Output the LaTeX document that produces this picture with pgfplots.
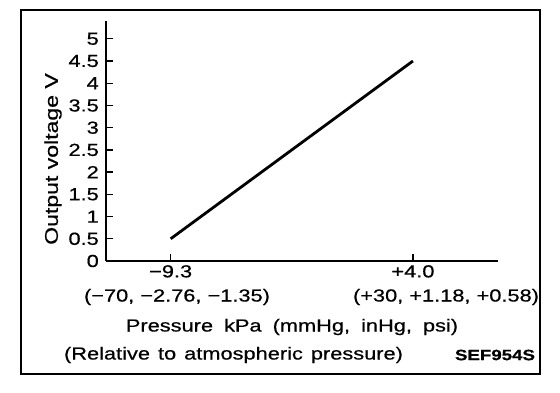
\documentclass[border=0pt]{standalone}
\usepackage{fontspec}
\setmainfont{Liberation Sans}[FakeStretch=1.25, FakeBold=0.6]
\usepackage{pgfplots}
\pgfplotsset{compat=1.18}
\begin{document}
\begin{tikzpicture}[x=1bp,y=1bp]
\fontsize{17.5}{21}\selectfont
\useasboundingbox (0,0) rectangle (560,392);
\draw[line width=2.5bp] (21,18) rectangle (540,382);
\begin{axis}[
  at={(106bp,131bp)}, anchor=south west,
  scale only axis, width=392bp, height=240bp,
  xmin=-12.85, xmax=8.67, ymin=0, ymax=5.4,
  axis lines=left,
  axis line style={-, line width=1.3bp},
  tick align=inside,
  major tick length=7bp,
  tick style={line width=1.3bp, black},
  /pgf/number format/assume math mode=true,
  xtick={-9.3,4.0},
  xticklabels={−9.3,+4.0},
  ytick={0,0.5,1,1.5,2,2.5,3,3.5,4,4.5,5},
  yticklabels={0,0.5,1,1.5,2,2.5,3,3.5,4,4.5,5},
  ticklabel style={font=\fontsize{17.5}{21}\selectfont},
  yticklabel style={inner sep=0pt, xshift=-7bp},
  xticklabel style={inner sep=0pt, yshift=-4bp},
  ylabel={Output voltage V},
  ylabel style={at={(axis description cs:-0.135,0.425)}, anchor=center, rotate=0, inner sep=0pt, font=\fontsize{18.5}{22}\selectfont},
  clip=false,
]
\addplot[black, line width=2.8bp] coordinates {(-9.3,0.5) (4.0,4.5)};
\end{axis}
\node at (177,95) {(−70, −2.76, −1.35)};
\node at (446,95) {(+30, +1.18, +0.58)};
\node at (292,65) {\spaceskip=11bp Pressure kPa (mmHg, inHg, psi)};
\node at (233.5,37) {\spaceskip=8bp (Relative to atmospheric pressure)};
\node[font=\fontsize{15}{18}\selectfont\bfseries] at (495,37) {SEF954S};
\end{tikzpicture}
\end{document}
